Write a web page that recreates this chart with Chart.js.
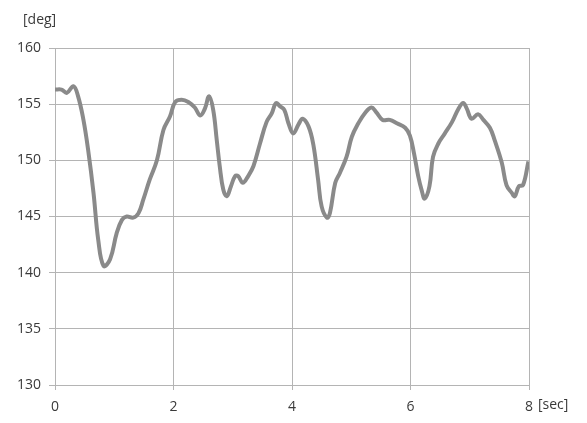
<!DOCTYPE html>
<html>
<head>
<meta charset="utf-8">
<script src="https://cdn.jsdelivr.net/npm/chart.js@4"></script>
<style>
  html, body { margin: 0; padding: 0; background: #fff; }
  #wrap { width: 587px; height: 423px; }
</style>
</head>
<body>
<div id="wrap"><canvas id="c" width="587" height="423"></canvas></div>
<script>
// Joint angle over time
const timeSec = [0, 0.11, 0.2, 0.31, 0.39, 0.48, 0.56, 0.65, 0.73, 0.82, 0.93, 1.04, 1.13, 1.21, 1.32, 1.41, 1.49, 1.6, 1.72, 1.83, 1.94, 2.03, 2.14, 2.25, 2.36, 2.45, 2.53, 2.6, 2.67, 2.73, 2.78, 2.84, 2.9, 2.97, 3.04, 3.09, 3.17, 3.26, 3.35, 3.46, 3.57, 3.66, 3.73, 3.8, 3.87, 3.94, 4.02, 4.11, 4.18, 4.28, 4.36, 4.44, 4.5, 4.59, 4.64, 4.73, 4.81, 4.92, 5.01, 5.12, 5.23, 5.34, 5.42, 5.53, 5.65, 5.77, 5.91, 5.99, 6.06, 6.13, 6.19, 6.24, 6.32, 6.38, 6.47, 6.58, 6.7, 6.81, 6.89, 6.95, 7.03, 7.14, 7.23, 7.34, 7.42, 7.54, 7.62, 7.71, 7.76, 7.83, 7.9, 7.99];
const angleDeg = [156.3, 156.3, 156.0, 156.6, 155.7, 153.6, 150.9, 147.1, 142.9, 140.6, 141.2, 143.5, 144.7, 145.0, 144.9, 145.3, 146.5, 148.3, 150.0, 152.7, 153.9, 155.2, 155.4, 155.2, 154.7, 154.0, 154.6, 155.7, 154.5, 151.8, 149.5, 147.4, 146.8, 147.7, 148.6, 148.6, 148.0, 148.6, 149.5, 151.5, 153.4, 154.2, 155.1, 154.8, 154.5, 153.3, 152.4, 153.2, 153.7, 153.0, 151.4, 148.3, 145.9, 144.9, 145.3, 148.0, 148.9, 150.3, 152.1, 153.3, 154.2, 154.7, 154.3, 153.6, 153.6, 153.3, 152.9, 152.2, 150.6, 148.6, 147.3, 146.6, 147.7, 150.3, 151.5, 152.4, 153.4, 154.6, 155.1, 154.6, 153.7, 154.1, 153.6, 152.9, 151.8, 149.8, 147.8, 147.1, 146.8, 147.7, 147.8, 149.9];
const xTicks = [0, 2, 4, 6, 8];
const yTicks = [130, 135, 140, 145, 150, 155, 160];
const yUnit = '[deg]';
const xUnit = '[sec]';

const points = timeSec.map((t, i) => ({ x: t, y: angleDeg[i] }));
const FONT = { family: "'Open Sans', 'Liberation Sans', sans-serif", size: 14 };
const TEXT = '#3a3a3a';
const GRID = '#b4b4b4';

// unit captions beside the axes
const unitLabels = {
  id: 'unitLabels',
  afterDraw(chart) {
    const { ctx, chartArea } = chart;
    ctx.save();
    ctx.font = `14px ${FONT.family}`;
    ctx.fillStyle = TEXT;
    ctx.textBaseline = 'middle';
    ctx.textAlign = 'left';
    ctx.fillText(yUnit, chartArea.left - 32, chartArea.top - 28);
    ctx.fillText(xUnit, chartArea.right + 9, chartArea.bottom + 20);
    ctx.restore();
  }
};

new Chart(document.getElementById('c'), {
  type: 'line',
  data: {
    datasets: [{
      data: points,
      borderColor: '#8a8a8a',
      borderWidth: 4,
      pointRadius: 0,
      tension: 0.4,
      fill: false
    }]
  },
  options: {
    responsive: false,
    animation: false,
    layout: { padding: { top: 48, right: 58, bottom: 0, left: 0 } },
    plugins: { legend: { display: false }, tooltip: { enabled: false } },
    scales: {
      x: {
        type: 'linear',
        min: 0, max: 8,
        afterBuildTicks(s) { s.ticks = xTicks.map(v => ({ value: v })); },
        afterFit(s) { s.height = 38; },
        grid: { color: GRID, lineWidth: 1, tickLength: 5, drawTicks: true },
        border: { color: GRID },
        ticks: { font: FONT, color: TEXT, padding: 9, maxRotation: 0 }
      },
      y: {
        min: 130, max: 160,
        afterBuildTicks(s) { s.ticks = yTicks.map(v => ({ value: v })); },
        afterFit(s) { s.width = 55; },
        grid: { color: GRID, lineWidth: 1, tickLength: 6, drawTicks: true },
        border: { color: GRID },
        ticks: { font: FONT, color: TEXT, padding: 8 }
      }
    }
  },
  plugins: [unitLabels]
});
</script>
</body>
</html>
